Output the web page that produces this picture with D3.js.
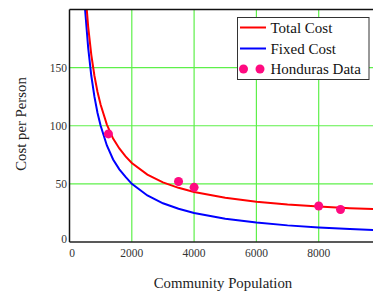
<!DOCTYPE html>
<html><head><meta charset="utf-8">
<script src="https://cdn.jsdelivr.net/npm/d3@7"></script>
<style>
body{margin:0;background:#fff;}
svg{display:block;}
text{font-family:"Liberation Serif","DejaVu Serif",serif;}
</style></head>
<body>
<script>
const popX = [480, 500, 600, 700, 800, 900, 1000, 1200, 1400, 1600, 1800, 2000, 2500, 3000, 3500, 4000, 5000, 6000, 7000, 8000, 9000, 10000];
const fixedCost = [208, 200, 167, 143, 125, 111, 100, 83, 71, 62.5, 56, 50, 40, 33.3, 28.6, 25, 20, 16.7, 14.3, 12.5, 11.1, 10];
const totalCost = [226, 218, 185, 161, 143, 129, 118, 101, 89, 80.5, 73.6, 68, 58, 51.3, 46.6, 43, 38, 34.7, 32.3, 30.5, 29.1, 28];
const hondurasPop = [1250, 3500, 4000, 8000, 8700];
const hondurasCost = [93, 52, 47, 31, 28];
const xTicks = [0, 2000, 4000, 6000, 8000];
const yTicks = [0, 50, 100, 150];
const legendLabels = ["Total Cost", "Fixed Cost", "Honduras Data"];

const W = 373, H = 293;
const L = 69.5, T = 9.5, B = 242;
const x = d3.scaleLinear().domain([0, 10000]).range([L, L + 311.5]);
const y = d3.scaleLinear().domain([0, 200]).range([B, T]);

const svg = d3.select("body").append("svg").attr("width", W).attr("height", H);
const defs = svg.append("defs");
defs.append("clipPath").attr("id", "clip").append("rect")
  .attr("x", L).attr("y", T).attr("width", W - L).attr("height", B - T);

// grid
const g = svg.append("g");
g.selectAll(".vg").data(xTicks.filter(d => d > 0).concat([10000])).enter().append("line")
  .attr("x1", d => x(d)).attr("x2", d => x(d)).attr("y1", T).attr("y2", B)
  .attr("stroke", "#5ef04a").attr("stroke-width", 1.2);
g.selectAll(".hg").data(yTicks.filter(d => d > 0)).enter().append("line")
  .attr("x1", L).attr("x2", W).attr("y1", d => y(d)).attr("y2", d => y(d))
  .attr("stroke", "#5ef04a").attr("stroke-width", 1.2);

// curves
const plot = svg.append("g").attr("clip-path", "url(#clip)");
const line = d3.line().x((d, i) => x(popX[i])).y(d => y(d));
plot.append("path").datum(fixedCost).attr("d", line)
  .attr("fill", "none").attr("stroke", "#0000ff").attr("stroke-width", 2);
plot.append("path").datum(totalCost).attr("d", line)
  .attr("fill", "none").attr("stroke", "#ff0000").attr("stroke-width", 2);
plot.selectAll("circle").data(hondurasPop).enter().append("circle")
  .attr("cx", d => x(d)).attr("cy", (d, i) => y(hondurasCost[i])).attr("r", 4.5)
  .attr("fill", "#ff0a80");

// axes frame
svg.append("line").attr("x1", L).attr("x2", L).attr("y1", T).attr("y2", B)
  .attr("stroke", "#111").attr("stroke-width", 1.5);
svg.append("line").attr("x1", L).attr("x2", W).attr("y1", B).attr("y2", B)
  .attr("stroke", "#222").attr("stroke-width", 1.5);
svg.append("line").attr("x1", L).attr("x2", W).attr("y1", T).attr("y2", T)
  .attr("stroke", "#111").attr("stroke-width", 1.5);

// tick labels
svg.selectAll(".xt").data(xTicks).enter().append("text")
  .attr("x", d => d === 0 ? x(d) + 2.5 : x(d)).attr("y", 257)
  .attr("text-anchor", "middle").attr("font-size", 11.5)
  .attr("fill", "#333").text(d => d);
svg.selectAll(".yt").data(yTicks).enter().append("text")
  .attr("x", 67).attr("y", d => (d === 0 ? y(d) - 3 : y(d)) + 4)
  .attr("text-anchor", "end").attr("font-size", 11.5)
  .attr("fill", "#333").text(d => d);

// axis titles
svg.append("text").attr("transform", "translate(26,124) rotate(-90)")
  .attr("text-anchor", "middle").attr("font-size", 14.8)
  .attr("fill", "#222").text("Cost per Person");
svg.append("text").attr("x", 223).attr("y", 288)
  .attr("text-anchor", "middle").attr("font-size", 14.8)
  .attr("fill", "#222").text("Community Population");

// legend
const lg = svg.append("g");
lg.append("rect").attr("x", 237.5).attr("y", 17.5).attr("width", 131.5).attr("height", 62)
  .attr("fill", "#fff").attr("stroke", "#333").attr("stroke-width", 1);
const rows = [27.5, 48.5, 69];
lg.append("line").attr("x1", 240).attr("x2", 266).attr("y1", rows[0]).attr("y2", rows[0])
  .attr("stroke", "#ff0000").attr("stroke-width", 2);
lg.append("line").attr("x1", 240).attr("x2", 266).attr("y1", rows[1]).attr("y2", rows[1])
  .attr("stroke", "#0000ff").attr("stroke-width", 2);
[243.5, 260].forEach(cx => lg.append("circle").attr("cx", cx).attr("cy", rows[2]).attr("r", 4.5).attr("fill", "#ff0a80"));
lg.selectAll(".lt").data(legendLabels).enter().append("text")
  .attr("x", 270.5).attr("y", (d, i) => rows[i] + 5)
  .attr("font-size", 15).attr("fill", "#111").text(d => d);
</script>
</body></html>
